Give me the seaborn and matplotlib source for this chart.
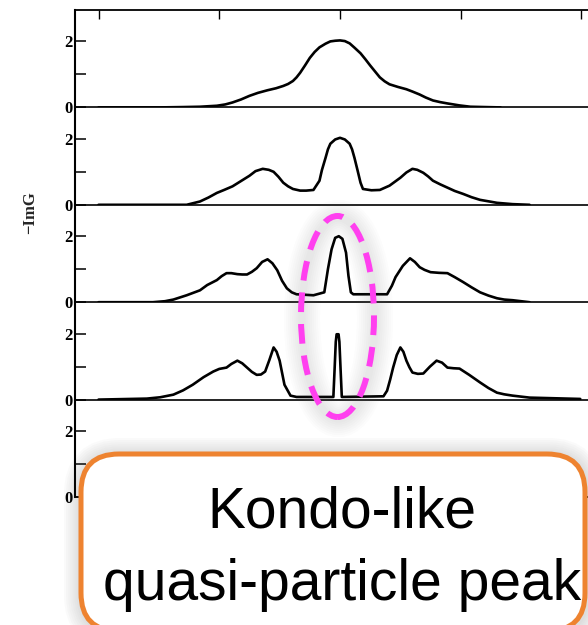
import matplotlib
matplotlib.use("Agg")
import numpy as np
import pandas as pd
import matplotlib.pyplot as plt
import seaborn as sns
from matplotlib.patches import Ellipse, FancyBboxPatch

# Spectral function -ImG(omega) for increasing interaction strength (top to bottom)
omega_a = [-2.00, -1.49, -1.30, -1.16, -1.02, -0.95, -0.89, -0.82, -0.75, -0.68, -0.60, -0.53,
           -0.47, -0.43, -0.39, -0.36, -0.33, -0.29, -0.25, -0.21, -0.17, -0.12, -0.08, -0.04,
           0.00, 0.04, 0.08, 0.12, 0.17, 0.21, 0.25, 0.29, 0.33, 0.37, 0.41, 0.48, 0.55, 0.60,
           0.66, 0.71, 0.77, 0.83, 0.89, 0.94, 0.99, 1.08, 1.20, 1.33]
dos_a = [0.00, 0.00, 0.01, 0.02, 0.05, 0.09, 0.15, 0.24, 0.35, 0.44, 0.52, 0.58,
         0.65, 0.71, 0.80, 0.91, 1.05, 1.27, 1.50, 1.68, 1.82, 1.93, 2.00, 2.02,
         2.03, 2.01, 1.94, 1.81, 1.64, 1.46, 1.27, 1.09, 0.91, 0.79, 0.70, 0.62, 0.55, 0.48,
         0.39, 0.30, 0.21, 0.16, 0.12, 0.09, 0.06, 0.02, 0.01, 0.00]

omega_b = [-2.00, -1.27, -1.16, -1.09, -1.02, -0.96, -0.89, -0.82, -0.75, -0.70, -0.64, -0.59,
           -0.55, -0.51, -0.47, -0.43, -0.39, -0.33, -0.28, -0.22, -0.17, -0.15, -0.12, -0.10,
           -0.08, -0.04, 0.00, 0.04, 0.08, 0.10, 0.12, 0.145, 0.17, 0.19, 0.26, 0.33, 0.41,
           0.50, 0.55, 0.60, 0.64, 0.69, 0.73, 0.77, 0.83, 0.89, 0.95, 1.02, 1.09, 1.16, 1.30,
           1.43, 1.57]
dos_b = [0.00, 0.00, 0.10, 0.22, 0.36, 0.45, 0.56, 0.72, 0.88, 1.02, 1.09, 1.06,
         1.00, 0.85, 0.67, 0.56, 0.48, 0.43, 0.43, 0.45, 0.73, 1.05, 1.42, 1.68,
         1.85, 1.98, 2.03, 1.98, 1.85, 1.68, 1.42, 1.05, 0.67, 0.48, 0.44, 0.45, 0.58,
         0.82, 0.98, 1.09, 1.06, 0.97, 0.86, 0.73, 0.62, 0.52, 0.42, 0.33, 0.23, 0.15, 0.06,
         0.02, 0.00]

omega_c = [-2.00, -1.55, -1.45, -1.38, -1.27, -1.16, -1.10, -1.02, -0.98, -0.94, -0.90, -0.85,
           -0.81, -0.77, -0.73, -0.69, -0.645, -0.60, -0.56, -0.52, -0.48, -0.44, -0.40, -0.36,
           -0.22, -0.13, -0.10, -0.07, -0.04, -0.01, 0.02, 0.05, 0.07, 0.09, 0.11, 0.39, 0.43,
           0.46, 0.52, 0.58, 0.62, 0.66, 0.70, 0.75, 0.82, 0.89, 0.95, 1.02, 1.09, 1.16, 1.23,
           1.30, 1.36, 1.43, 1.57]
dos_c = [0.00, 0.00, 0.03, 0.08, 0.21, 0.36, 0.52, 0.67, 0.79, 0.88, 0.88, 0.85,
         0.84, 0.84, 0.92, 1.03, 1.22, 1.30, 1.18, 0.97, 0.65, 0.42, 0.30, 0.24,
         0.21, 0.30, 1.00, 1.60, 1.95, 2.00, 1.92, 1.50, 0.80, 0.30, 0.24, 0.24, 0.50,
         0.76, 1.10, 1.33, 1.22, 1.06, 0.98, 0.91, 0.89, 0.88, 0.76, 0.61, 0.45, 0.30, 0.20,
         0.12, 0.08, 0.06, 0.00]

omega_d = [-2.00, -1.60, -1.49, -1.38, -1.30, -1.22, -1.13, -1.05, -1.00, -0.94, -0.90, -0.85,
           -0.81, -0.77, -0.73, -0.69, -0.655, -0.62, -0.585, -0.55, -0.525, -0.50, -0.46,
           -0.41, -0.36, -0.055, -0.045, -0.035, -0.028, -0.012, -0.005, 0.005, 0.015, 0.36,
           0.39, 0.415, 0.44, 0.47, 0.50, 0.525, 0.55, 0.575, 0.60, 0.645, 0.69, 0.745, 0.80,
           0.845, 0.89, 0.94, 0.99, 1.07, 1.16, 1.23, 1.30, 1.36, 1.43, 1.57, 1.99]
dos_d = [0.00, 0.03, 0.07, 0.15, 0.28, 0.45, 0.68, 0.85, 0.93, 0.97, 1.08, 1.18,
         1.10, 0.97, 0.84, 0.75, 0.76, 0.85, 1.20, 1.58, 1.45, 1.18, 0.45,
         0.12, 0.08, 0.08, 0.90, 1.75, 1.98, 1.98, 1.75, 0.90, 0.08, 0.10,
         0.27, 0.60, 0.97, 1.35, 1.58, 1.45, 1.18, 0.98, 0.82, 0.78, 0.79, 1.00, 1.18,
         1.12, 0.97, 0.95, 0.94, 0.75, 0.52, 0.35, 0.21, 0.16, 0.12, 0.06, 0.02]

x_ticks = [-2, -1, 0, 1, 2]
y_ticks = [0, 2]
y_tick_labels = ["0", "2"]
y_minor = [1]

sns.set_theme(style="ticks")
plt.rcParams["font.family"] = ["Liberation Sans", "DejaVu Sans"]

W, H, DPI = 588, 625, 100
fig = plt.figure(figsize=(W / DPI, H / DPI), dpi=DPI)
fig.patch.set_facecolor("white")

panel_h = 97.4      # px per panel
top0 = 10           # px from top
left_px, right_px = 75, 605
ymax = panel_h / 33.0
serif = ["Liberation Serif", "DejaVu Serif"]

panels = [(omega_a, dos_a), (omega_b, dos_b), (omega_c, dos_c), (omega_d, dos_d), (None, None)]
for i, (om, dos) in enumerate(panels):
    top = top0 + i * panel_h
    ax = fig.add_axes([left_px / W, 1 - (top + panel_h) / H,
                       (right_px - left_px) / W, panel_h / H])
    ax.set_facecolor("none")
    if om is not None:
        df = pd.DataFrame({"omega": om, "dos": dos})
        sns.lineplot(data=df, x="omega", y="dos", ax=ax, color="black", lw=1.9,
                     estimator=None, sort=False,
                     solid_joinstyle="round", solid_capstyle="round")
    ax.set_xlim(-2.195, 2.195)
    ax.set_ylim(0, ymax)
    ax.set_xlabel("")
    ax.set_ylabel("")
    ax.set_yticks(y_ticks)
    ax.set_yticklabels(y_tick_labels, fontfamily=serif, fontweight="bold", fontsize=12)
    ax.set_yticks(y_minor, minor=True)
    ax.tick_params(axis="y", which="both", direction="in", length=8, width=1.1,
                   color="black", pad=2, labelcolor="black")
    if i == 0:
        ax.set_xticks(x_ticks)
        ax.tick_params(axis="x", which="major", direction="in", top=True, bottom=False,
                       labeltop=False, labelbottom=False, length=6.5, width=1.0, color="black")
    else:
        ax.set_xticks([])
    for s in ["left", "bottom", "top", "right"]:
        ax.spines[s].set_color("black")
    ax.spines["left"].set_linewidth(1.5)
    ax.spines["bottom"].set_linewidth(1.2)
    ax.spines["top"].set_linewidth(1.3)
    ax.spines["top"].set_visible(i == 0)
    ax.spines["right"].set_visible(False)

tr = fig.dpi_scale_trans

fig.text(0.30, (H - 213) / DPI, "\u2212ImG", rotation=90, ha="center", va="center",
         fontsize=12, fontweight="bold", family=serif, transform=tr)

# soft shadow and dashed ellipse around the central peak
ecx, ecy, ew, eh = 3.375, (H - 316.5) / DPI, 0.73, 2.01
for k in range(8):
    fig.add_artist(Ellipse((ecx + 0.01, ecy - 0.02), ew, eh, transform=tr, fill=False,
                           edgecolor="0.4", lw=5 + 3.0 * k, alpha=0.02, zorder=3))
fig.add_artist(Ellipse((ecx, ecy), ew, eh, transform=tr, fill=False, edgecolor="#FF3FEF",
                       lw=4.3, linestyle=(0, (3.3, 2.0)), zorder=4))

# callout box
bx0, by0, bw, bh = 0.81, (H - 631) / DPI, 5.04, 1.77
for k in range(8):
    fig.add_artist(FancyBboxPatch((bx0 + 0.01, by0 - 0.02), bw, bh, transform=tr,
                                  boxstyle="round,pad=0,rounding_size=0.38", fill=False,
                                  edgecolor="0.3", lw=5 + 3.0 * k, alpha=0.025, zorder=5))
fig.add_artist(FancyBboxPatch((bx0, by0), bw, bh, transform=tr,
                              boxstyle="round,pad=0,rounding_size=0.38",
                              facecolor="white", edgecolor="#EE8330", lw=3.6, zorder=6))
fig.text(3.42, (H - 528) / DPI, "Kondo-like", transform=tr, ha="center", va="baseline",
         fontsize=41, color="black", zorder=7)
fig.text(3.42, (H - 600) / DPI, "quasi-particle peak", transform=tr, ha="center",
         va="baseline", fontsize=41, color="black", zorder=7)

fig.savefig("out.png", dpi=DPI)
